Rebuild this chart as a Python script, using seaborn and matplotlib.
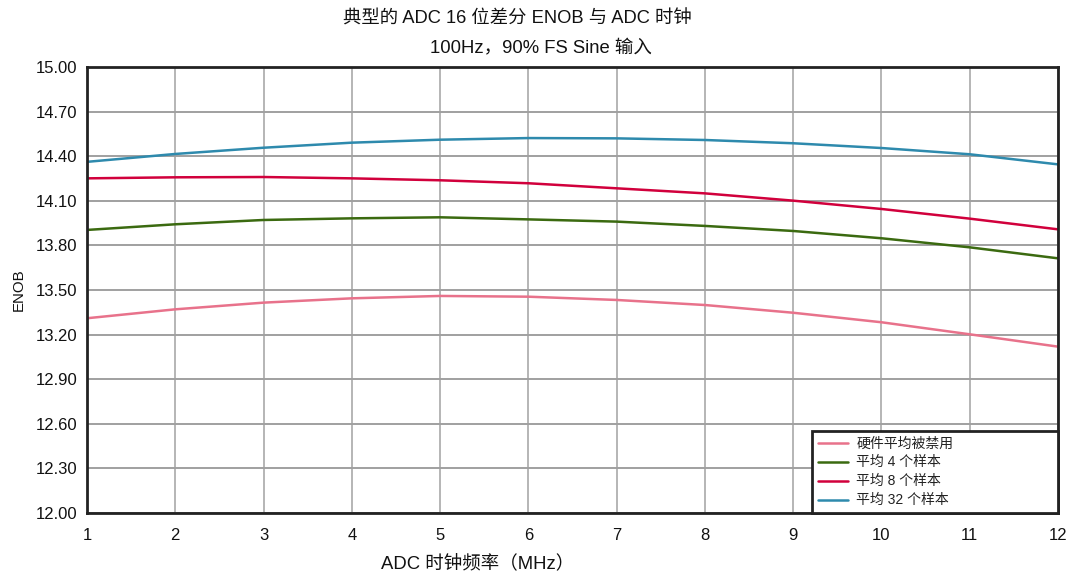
import numpy as np
import pandas as pd
import matplotlib
matplotlib.use("Agg")
import matplotlib.pyplot as plt
import seaborn as sns

clock_mhz = [1, 2, 3, 4, 5, 6, 7, 8, 9, 10, 11, 12]
enob_no_avg = [13.31, 13.37, 13.415, 13.444, 13.46, 13.455, 13.433, 13.399, 13.347, 13.283, 13.202, 13.119]
enob_avg4 = [13.904, 13.942, 13.971, 13.982, 13.989, 13.975, 13.96, 13.931, 13.897, 13.848, 13.787, 13.713]
enob_avg8 = [14.251, 14.258, 14.26, 14.251, 14.238, 14.218, 14.184, 14.15, 14.101, 14.045, 13.98, 13.908]
enob_avg32 = [14.362, 14.415, 14.457, 14.491, 14.511, 14.522, 14.52, 14.509, 14.487, 14.455, 14.413, 14.345]
series_names = ["硬件平均被禁用", "平均 4 个样本", "平均 8 个样本", "平均 32 个样本"]
y_ticks = [12.00, 12.30, 12.60, 12.90, 13.20, 13.50, 13.80, 14.10, 14.40, 14.70, 15.00]

colors = ["#E8728B", "#3B6A10", "#D1003C", "#2E8AAD"]

rows = []
for name, vals in zip(series_names, [enob_no_avg, enob_avg4, enob_avg8, enob_avg32]):
    for x, v in zip(clock_mhz, vals):
        rows.append({"clock": x, "enob": v, "series": name})
df = pd.DataFrame(rows)

sns.set_theme(style="whitegrid")
plt.rcParams["font.family"] = ["Liberation Sans", "Noto Sans CJK SC", "DejaVu Sans"]

fig = plt.figure(figsize=(10.71, 5.74), dpi=100)
ax = fig.add_axes([87 / 1071, 1 - 513 / 574, (1058 - 87) / 1071, (513 - 67) / 574])

sns.lineplot(data=df, x="clock", y="enob", hue="series", hue_order=series_names,
             palette=colors, linewidth=1.8, ax=ax, legend=True)

ax.set_xlim(1, 12)
ax.set_ylim(12.0, 15.0)
ax.set_xticks(clock_mhz)
ax.set_xticklabels([str(c) for c in clock_mhz])
ax.set_yticks(y_ticks)
ax.set_yticklabels([f"{t:.2f}" for t in y_ticks])
ax.tick_params(axis="both", labelsize=12, colors="#111111", length=0)
ax.tick_params(axis="x", pad=11)
ax.tick_params(axis="y", pad=7)

ax.grid(True, axis="x", color="#b5b5b5", linewidth=1.4)
ax.grid(True, axis="y", color="#a0a0a0", linewidth=1.4)
for s in ax.spines.values():
    s.set_visible(True)
    s.set_color("#222222")
    s.set_linewidth(2.0)

ax.set_xlabel("ADC 时钟频率（MHz）", fontsize=13.3, color="#111111")
ax.xaxis.set_label_coords(0.402, -0.095)
ax.set_ylabel("ENOB", fontsize=10.8, color="#111111")
ax.yaxis.set_label_coords(-0.063, 0.50)

fig.text(517 / 1071, 1 - 19 / 574, "典型的 ADC 16 位差分 ENOB 与 ADC 时钟", ha="center", va="center",
         fontsize=13.2, color="#111111")
fig.text(541 / 1071, 1 - 49 / 574, "100Hz，90% FS Sine 输入", ha="center", va="center",
         fontsize=13.3, color="#111111")

leg = ax.legend(loc="lower left", bbox_to_anchor=(0.7466, 0.0, 0.2534, 0.19), mode="expand",
                borderaxespad=0, frameon=True, fancybox=False, fontsize=10,
                handlelength=2.2, handletextpad=0.6, labelspacing=0.36, borderpad=0.4, title=None)
leg.get_frame().set_edgecolor("#222222")
leg.get_frame().set_linewidth(2.0)
leg.get_frame().set_alpha(1.0)
for t in leg.get_texts():
    t.set_color("#222222")

fig.savefig("out.png", dpi=100, facecolor="white")
